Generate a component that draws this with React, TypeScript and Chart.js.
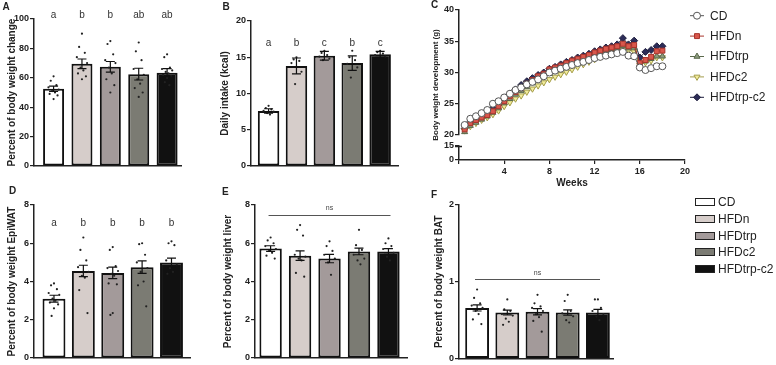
import React, { useEffect, useRef } from 'react';
import { Chart, registerables } from 'chart.js';
import { drawPoint } from 'chart.js/helpers';

Chart.register(...registerables);

const FONT = "Arial, 'Liberation Sans', Helvetica, sans-serif";
Chart.defaults.font.family = FONT;

// ---- groups ----
const groups = ['CD', 'HFDn', 'HFDtrp', 'HFDc2', 'HFDtrp-c2'];
const barFills = ['#ffffff', '#d6cdca', '#a39a9a', '#7b7b73', '#111111'];

// ---- A: body weight change (%) ----
const changeMean = [52.5, 69.5, 67.5, 62.5, 63.5];
const changeSem = [1.8, 3.3, 3.6, 4.0, 2.8];
const changeDots = [
  [61, 58, 55, 53.5, 52, 51, 50, 49, 48, 45.5],
  [90, 81, 77, 74, 70, 67, 65, 63, 61, 59],
  [85, 83, 76, 72, 70, 67, 63, 59, 55, 50],
  [84, 78, 72, 66, 62, 59, 56, 53, 50, 47],
  [76, 74, 67, 66, 65, 64, 63, 62, 61, 60, 57, 55],
];
const changeLetters = ['a', 'b', 'b', 'ab', 'ab'];

// ---- B: daily intake (kcal) ----
const intakeMean = [7.6, 13.8, 15.2, 14.2, 15.4];
const intakeSem = [0.3, 1.1, 0.6, 1.0, 0.4];
const intakeDots = [
  [8.3, 8.0, 7.8, 7.6, 7.5, 7.3, 7.1],
  [15.0, 14.7, 14.5, 14.2, 13.0, 11.3],
  [15.9, 15.6, 15.3, 15.1, 14.8, 14.6],
  [15.9, 15.0, 14.6, 14.1, 13.6, 12.2],
  [15.9, 15.7, 15.5, 15.3, 15.1],
];
const intakeLetters = ['a', 'b', 'c', 'b', 'c'];

// ---- D: EpiWAT (% body weight) ----
const epiMean = [3.1, 4.55, 4.45, 4.75, 5.0];
const epiSem = [0.18, 0.3, 0.3, 0.33, 0.22];
const epiDots = [
  [3.9, 3.8, 3.6, 3.4, 3.3, 3.1, 3.0, 2.9, 2.8, 2.6, 2.2],
  [6.3, 5.65, 5.1, 4.75, 4.5, 4.3, 4.2, 3.55, 2.35],
  [5.8, 5.65, 4.8, 4.7, 4.55, 4.4, 4.3, 3.9, 3.85, 2.35, 2.25],
  [6.0, 5.95, 5.4, 5.0, 4.7, 4.5, 4.0, 3.8, 2.7],
  [6.1, 6.0, 5.9, 5.1, 4.9, 4.7, 4.5, 4.4],
];
const epiLetters = ['a', 'b', 'b', 'b', 'b'];

// ---- E: liver (% body weight) ----
const liverMean = [5.72, 5.35, 5.2, 5.57, 5.57];
const liverSem = [0.15, 0.25, 0.22, 0.17, 0.15];
const liverDots = [
  [6.3, 6.15, 6.0, 5.85, 5.7, 5.6, 5.5, 5.35, 5.2],
  [6.95, 6.7, 6.4, 5.4, 5.3, 5.2, 5.1, 4.45, 4.25],
  [6.1, 5.85, 5.6, 5.4, 5.2, 5.0, 4.35],
  [6.7, 5.9, 5.65, 5.4, 5.2, 5.1, 4.9],
  [6.25, 6.0, 5.85, 5.7, 5.5, 5.3, 5.1],
];

// ---- F: BAT (% body weight) ----
const batMean = [0.66, 0.6, 0.61, 0.6, 0.6];
const batSem = [0.04, 0.03, 0.04, 0.035, 0.04];
const batDots = [
  [0.9, 0.79, 0.72, 0.69, 0.66, 0.62, 0.58, 0.51, 0.45],
  [0.77, 0.64, 0.62, 0.58, 0.56, 0.52, 0.48, 0.44],
  [0.83, 0.72, 0.68, 0.66, 0.62, 0.58, 0.54, 0.49, 0.35],
  [0.83, 0.75, 0.62, 0.59, 0.55, 0.5, 0.47],
  [0.77, 0.77, 0.66, 0.62, 0.58, 0.55, 0.5],
];

// ---- C: body weight development (g) ----
const weeks = [
  0.5, 1, 1.5, 2, 2.5, 3, 3.5, 4, 4.5, 5, 5.5, 6, 6.5, 7, 7.5, 8, 8.5, 9, 9.5, 10,
  10.5, 11, 11.5, 12, 12.5, 13, 13.5, 14, 14.5, 15, 15.5, 16, 16.5, 17, 17.5, 18,
];
const growthCD = [
  21.6, 22.6, 23.0, 23.5, 24.0, 25.0, 25.4, 26.0, 26.6, 27.2, 27.6, 28.1, 28.5, 28.9, 29.4, 30.0, 30.3, 30.6,
  30.9, 31.2, 31.5, 31.7, 32.0, 32.3, 32.5, 32.7, 32.9, 33.1, 33.3, 32.7, 32.6, 30.8, 30.4, 30.7, 31.0, 31.0,
];
const growthHFDn = [
  20.9, 21.9, 22.4, 22.8, 23.2, 23.8, 24.6, 25.4, 26.2, 26.9, 27.5, 28.2, 28.8, 29.4, 29.8, 30.5, 30.8, 31.1,
  31.5, 31.9, 32.2, 32.5, 32.8, 33.2, 33.5, 33.8, 34.0, 34.2, 34.6, 34.2, 34.4, 31.5, 32.0, 32.5, 33.4, 33.5,
];
const growthHFDtrp = [
  20.5, 21.5, 22.0, 22.5, 23.0, 23.6, 24.3, 25.1, 25.8, 26.5, 27.1, 27.7, 28.3, 28.8, 29.3, 29.8, 30.2, 30.6,
  31.0, 31.4, 31.8, 32.2, 32.5, 32.9, 33.2, 33.5, 33.8, 34.0, 34.3, 33.9, 34.0, 31.3, 31.8, 32.2, 32.6, 32.6,
];
const growthHFDc2 = [
  20.7, 21.4, 21.9, 22.4, 22.8, 23.3, 23.9, 24.6, 25.2, 25.8, 26.3, 26.9, 27.4, 27.9, 28.4, 28.9, 29.3, 29.7,
  30.1, 30.5, 30.9, 31.3, 31.7, 32.1, 32.5, 32.9, 33.2, 33.5, 33.8, 33.6, 33.3, 31.2, 31.6, 31.9, 32.4, 32.4,
];
const growthHFDtrpC2 = [
  21.0, 22.1, 22.6, 23.0, 23.5, 24.3, 25.0, 25.8, 26.6, 27.3, 28.0, 28.6, 29.1, 29.6, 30.0, 30.6, 30.9, 31.3,
  31.7, 32.0, 32.4, 32.7, 33.0, 33.4, 33.7, 34.0, 34.2, 34.5, 35.5, 34.5, 35.1, 32.4, 33.3, 33.6, 34.2, 34.2,
];
const growthSeries = [growthCD, growthHFDn, growthHFDtrp, growthHFDc2, growthHFDtrpC2];
const weekTicks = [4, 8, 12, 16, 20];
const upperTicks = [20, 25, 30, 35, 40];
const lowerTicks = [0, 15];

// marker styling for the growth curves
const markerFill = ['#ffffff', '#d9574c', '#8c9a7e', '#f2ec9a', '#2c2c58'];
const markerEdge = ['#555555', '#a8342c', '#5b6a4c', '#a39c4a', '#1c1c3c'];
const markerShape = ['circle', 'rect', 'triangle', 'triangle', 'rectRot'];
const markerTurn = [0, 0, 0, 180, 0];

// horizontal spread of the individual animals around each bar centre
const dotSpread = [0, -0.1, 0.1, -0.18, 0.18, -0.05, 0.05, -0.14, 0.14, 0.0, -0.08, 0.08];

const INK = '#222222';

type BarPanel = {
  rect: [number, number, number, number];
  area: [number, number, number, number];
  xRange: [number, number];
  barRatio: number;
  yMax: number;
  yStep: number;
  title: string;
  titleX: number;
  means: number[];
  sems: number[];
  dots: number[][];
  letters?: string[];
  letterAt?: number;
  ns?: { lineAt: number; textAt: number };
};

function barChartConfig(p: BarPanel): any {
  const [cl, ct, cw, ch] = p.rect;
  const [al, at, ar, ab] = p.area;
  const dotData: { x: number; y: number }[] = [];
  p.dots.forEach((vals, g) => {
    vals.forEach((v, j) => dotData.push({ x: g + dotSpread[j % dotSpread.length], y: v }));
  });
  const extras = {
    id: 'barExtras',
    afterDatasetsDraw(chart: any) {
      const { ctx, scales } = chart;
      const xs = scales.x;
      const ys = scales.y;
      ctx.save();
      // error bars (mean ± SEM)
      ctx.strokeStyle = '#111';
      ctx.lineWidth = 1.2;
      p.means.forEach((m, i) => {
        const x = xs.getPixelForValue(i);
        const yHi = ys.getPixelForValue(m + p.sems[i]);
        const yLo = ys.getPixelForValue(m - p.sems[i]);
        ctx.beginPath();
        ctx.moveTo(x, yHi);
        ctx.lineTo(x, yLo);
        ctx.moveTo(x - 4.5, yHi);
        ctx.lineTo(x + 4.5, yHi);
        ctx.moveTo(x - 4.5, yLo);
        ctx.lineTo(x + 4.5, yLo);
        ctx.stroke();
      });
      // significance letters
      if (p.letters && p.letterAt !== undefined) {
        ctx.fillStyle = '#333';
        ctx.font = `10px ${FONT}`;
        ctx.textAlign = 'center';
        ctx.textBaseline = 'middle';
        p.letters.forEach((t, i) => {
          ctx.fillText(t, xs.getPixelForValue(i), ys.getPixelForValue(p.letterAt as number));
        });
      }
      // "ns" bracket
      if (p.ns) {
        const y = Math.round(ys.getPixelForValue(p.ns.lineAt)) + 0.5;
        ctx.strokeStyle = '#555';
        ctx.lineWidth = 1;
        ctx.beginPath();
        ctx.moveTo(xs.getPixelForValue(-0.07), y);
        ctx.lineTo(xs.getPixelForValue(4.07), y);
        ctx.stroke();
        ctx.fillStyle = '#444';
        ctx.font = `7px ${FONT}`;
        ctx.textAlign = 'center';
        ctx.textBaseline = 'middle';
        ctx.fillText('ns', xs.getPixelForValue(2), ys.getPixelForValue(p.ns.textAt));
      }
      ctx.restore();
    },
  };
  return {
    type: 'bar',
    data: {
      datasets: [
        {
          type: 'scatter',
          data: dotData,
          pointRadius: 1.1,
          pointBackgroundColor: '#222',
          pointBorderWidth: 0,
          order: 1,
        },
        {
          type: 'bar',
          data: p.means.map((m, i) => ({ x: i, y: m })),
          backgroundColor: barFills,
          borderColor: '#111',
          borderWidth: 2,
          borderSkipped: false,
          barPercentage: p.barRatio,
          categoryPercentage: 1,
          order: 2,
        },
      ],
    },
    options: {
      animation: false,
      responsive: false,
      events: [],
      layout: { padding: { left: 0, top: at - ct, right: cl + cw - ar, bottom: 0 } },
      plugins: { legend: { display: false }, tooltip: { enabled: false } },
      scales: {
        x: {
          type: 'linear',
          min: p.xRange[0],
          max: p.xRange[1],
          offset: false,
          ticks: { display: false },
          grid: { display: false, drawTicks: false },
          border: { display: true, color: INK, width: 1.5 },
          afterFit: (s: any) => {
            s.height = ct + ch - ab;
          },
        },
        y: {
          min: 0,
          max: p.yMax,
          ticks: { stepSize: p.yStep, padding: 1, color: INK, font: { size: 9, weight: 'bold' } },
          grid: { display: true, drawOnChartArea: false, drawTicks: true, tickLength: 4, color: INK, lineWidth: 1.2 },
          border: { display: true, color: INK, width: 1.5 },
          title: {
            display: true,
            text: p.title,
            color: INK,
            font: { size: 10, weight: 'bold' },
            padding: { top: p.titleX - cl - 6, bottom: 0 },
          },
          afterFit: (s: any) => {
            s.width = al - cl;
          },
        },
      },
    },
    plugins: [extras],
  };
}

const panelA: BarPanel = {
  rect: [0, 0, 200, 180], area: [34, 19, 181, 166], xRange: [-0.69, 4.49], barRatio: 0.74,
  yMax: 100, yStep: 20, title: 'Percent of body weight change', titleX: 12,
  means: changeMean, sems: changeSem, dots: changeDots, letters: changeLetters, letterAt: 102.7,
};
const panelB: BarPanel = {
  rect: [205, 0, 205, 180], area: [251, 21, 398, 166], xRange: [-0.63, 4.64], barRatio: 0.77,
  yMax: 20, yStep: 5, title: 'Daily intake (kcal)', titleX: 225,
  means: intakeMean, sems: intakeSem, dots: intakeDots, letters: intakeLetters, letterAt: 17,
};
const panelD: BarPanel = {
  rect: [0, 183, 200, 182], area: [34, 205, 190, 358], xRange: [-0.68, 4.63], barRatio: 0.78,
  yMax: 8, yStep: 2, title: 'Percent of body weight EpiWAT', titleX: 12,
  means: epiMean, sems: epiSem, dots: epiDots, letters: epiLetters, letterAt: 7.06,
};
const panelE: BarPanel = {
  rect: [205, 183, 210, 182], area: [255, 205, 407, 358], xRange: [-0.53, 4.63], barRatio: 0.76,
  yMax: 8, yStep: 2, title: 'Percent of body weight liver', titleX: 228,
  means: liverMean, sems: liverSem, dots: liverDots, ns: { lineAt: 7.5, textAt: 7.84 },
};
const panelF: BarPanel = {
  rect: [420, 183, 270, 182], area: [459, 205, 613, 359], xRange: [-0.6, 4.5], barRatio: 0.79,
  yMax: 2, yStep: 1, title: 'Percent of body weight BAT', titleX: 439,
  means: batMean, sems: batSem, dots: batDots, ns: { lineAt: 1.03, textAt: 1.12 },
};

const growthRect: [number, number, number, number] = [420, 0, 356, 190];

function growthConfig(): any {
  const [cl, ct, cw, ch] = growthRect;
  const extras = {
    id: 'growthExtras',
    afterDraw(chart: any) {
      const { ctx, chartArea, scales } = chart;
      ctx.save();
      // y-axis title centred on the whole (broken) axis
      ctx.translate(16, (chartArea.top + chartArea.bottom) / 2);
      ctx.rotate(-Math.PI / 2);
      ctx.font = `bold 8px ${FONT}`;
      ctx.fillStyle = INK;
      ctx.textAlign = 'center';
      ctx.textBaseline = 'middle';
      ctx.fillText('Body weight development (g)', 0, 0);
      ctx.restore();

      // cap marking the axis break
      const low = scales.yLow;
      ctx.save();
      ctx.strokeStyle = INK;
      ctx.lineWidth = 1.5;
      ctx.beginPath();
      ctx.moveTo(low.right - 4, low.top + 0.5);
      ctx.lineTo(low.right + 3, low.top + 0.5);
      ctx.stroke();

      // legend
      const lx = 277;
      groups.forEach((g, i) => {
        const y = 15.7 + i * 20.4;
        ctx.strokeStyle = markerEdge[i];
        ctx.lineWidth = 1;
        ctx.beginPath();
        ctx.moveTo(lx - 7, y);
        ctx.lineTo(lx + 7, y);
        ctx.stroke();
        ctx.fillStyle = markerFill[i];
        drawPoint(ctx, { pointStyle: markerShape[i], rotation: markerTurn[i], radius: 3.5, borderWidth: 1 } as any, lx, y);
        ctx.fillStyle = INK;
        ctx.font = `12px ${FONT}`;
        ctx.textAlign = 'left';
        ctx.textBaseline = 'middle';
        ctx.fillText(g, lx + 13, y + 0.5);
      });
      ctx.restore();
    },
  };
  const tickFont = { size: 9, weight: 'bold' };
  const axisGrid = { display: true, drawOnChartArea: false, drawTicks: true, tickLength: 4, color: INK, lineWidth: 1.2 };
  return {
    type: 'line',
    data: {
      datasets: growthSeries.map((vals, i) => ({
        label: groups[i],
        data: weeks.map((w, k) => ({ x: w, y: vals[k] })),
        yAxisID: 'y',
        borderColor: markerEdge[i],
        borderWidth: 1,
        pointStyle: markerShape[i],
        rotation: markerTurn[i],
        pointRadius: 3.5,
        pointBorderWidth: 1,
        pointBackgroundColor: markerFill[i],
        pointBorderColor: markerEdge[i],
        fill: false,
        tension: 0,
      })),
    },
    options: {
      animation: false,
      responsive: false,
      events: [],
      layout: { padding: { left: 0, top: 10 - ct, right: cl + cw - 685, bottom: 0 } },
      plugins: { legend: { display: false }, tooltip: { enabled: false } },
      scales: {
        x: {
          type: 'linear',
          min: 0,
          max: 20,
          afterBuildTicks: (s: any) => {
            s.ticks = [0, ...weekTicks].map((v) => ({ value: v }));
          },
          ticks: {
            color: INK,
            font: tickFont,
            padding: 2,
            autoSkip: false,
            maxRotation: 0,
            callback: (v: any) => (v === 0 ? '' : String(v)),
          },
          grid: axisGrid,
          border: { display: true, color: INK, width: 1.5 },
          title: { display: true, text: 'Weeks', color: INK, font: { size: 10, weight: 'bold' }, padding: { top: 0, bottom: 1 } },
          afterFit: (s: any) => {
            s.height = ct + ch - 160;
          },
        },
        y: {
          type: 'linear',
          min: 20,
          max: 40,
          stack: 'bw',
          stackWeight: 125,
          weight: 3,
          afterBuildTicks: (s: any) => {
            s.ticks = upperTicks.map((v) => ({ value: v }));
          },
          ticks: { color: INK, font: tickFont, padding: 1, autoSkip: false },
          grid: axisGrid,
          border: { display: true, color: INK, width: 1.5 },
          afterFit: (s: any) => {
            s.width = 459 - cl;
          },
        },
        yGap: {
          type: 'linear',
          position: 'left',
          min: 0,
          max: 1,
          stack: 'bw',
          stackWeight: 11,
          weight: 2,
          ticks: { display: false },
          grid: { display: false, drawTicks: false },
          border: { display: false },
          afterFit: (s: any) => {
            s.width = 0;
          },
        },
        yLow: {
          type: 'linear',
          position: 'left',
          min: 0,
          max: 15,
          stack: 'bw',
          stackWeight: 14,
          weight: 1,
          afterBuildTicks: (s: any) => {
            s.ticks = lowerTicks.map((v) => ({ value: v }));
          },
          ticks: { color: INK, font: tickFont, padding: 1, autoSkip: false },
          grid: axisGrid,
          border: { display: true, color: INK, width: 1.5 },
          afterFit: (s: any) => {
            s.width = 459 - cl;
          },
        },
      },
    },
    plugins: [extras],
  };
}

function ChartCanvas({ rect, make }: { rect: [number, number, number, number]; make: () => any }) {
  const ref = useRef<HTMLCanvasElement>(null);
  useEffect(() => {
    const chart = new Chart(ref.current as HTMLCanvasElement, make());
    return () => chart.destroy();
  }, []);
  return (
    <canvas
      ref={ref}
      width={rect[2]}
      height={rect[3]}
      style={{ position: 'absolute', left: rect[0], top: rect[1], width: rect[2], height: rect[3] }}
    />
  );
}

const panelTags: [string, number, number][] = [
  ['A', 6.5, 7],
  ['B', 226.5, 7],
  ['C', 435, 5],
  ['D', 13, 190.5],
  ['E', 226, 192],
  ['F', 435, 195],
];

export default function App() {
  const bars = [panelA, panelB, panelD, panelE, panelF];
  return (
    <div
      style={{
        position: 'absolute',
        left: 0,
        top: 0,
        width: 776,
        height: 365,
        background: '#ffffff',
        overflow: 'hidden',
        fontFamily: FONT,
      }}
    >
      {bars.map((p, i) => (
        <ChartCanvas key={i} rect={p.rect} make={() => barChartConfig(p)} />
      ))}
      <ChartCanvas rect={growthRect} make={growthConfig} />
      {panelTags.map(([t, x, y]) => (
        <div
          key={t}
          style={{
            position: 'absolute',
            left: x - 4,
            top: y - 6,
            fontSize: 10,
            lineHeight: '12px',
            fontWeight: 'bold',
            color: INK,
          }}
        >
          {t}
        </div>
      ))}
      {groups.map((g, i) => {
        const yc = 202 + i * 16.75;
        return (
          <React.Fragment key={g}>
            <div
              style={{
                position: 'absolute',
                left: 695,
                top: yc - 4,
                width: 20,
                height: 8,
                boxSizing: 'border-box',
                border: '1.5px solid #222',
                background: barFills[i],
              }}
            />
            <div
              style={{
                position: 'absolute',
                left: 718,
                top: yc - 7,
                fontSize: 12,
                lineHeight: '14px',
                color: INK,
                whiteSpace: 'nowrap',
              }}
            >
              {g}
            </div>
          </React.Fragment>
        );
      })}
    </div>
  );
}
